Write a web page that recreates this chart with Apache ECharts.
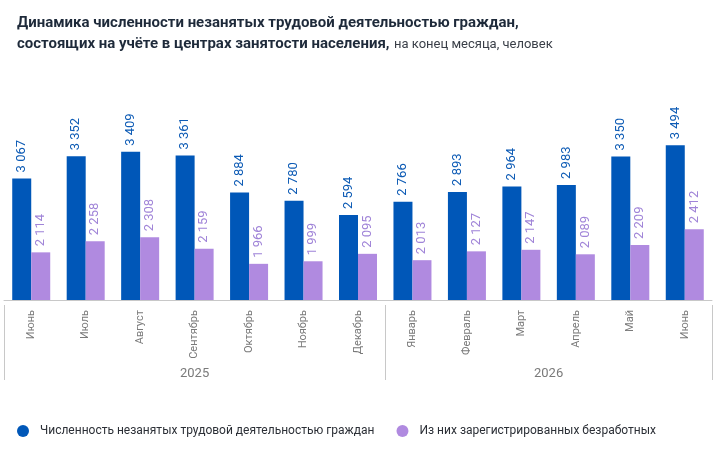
<!DOCTYPE html>
<html><head><meta charset="utf-8">
<script src="https://cdn.jsdelivr.net/npm/echarts@6/dist/echarts.min.js"></script>
<style>html,body{margin:0;padding:0;background:#fff}#c{width:723px;height:456px}</style>
</head><body><div id="c"></div>
<script>
var months = ['Июнь', 'Июль', 'Август', 'Сентябрь', 'Октябрь', 'Ноябрь', 'Декабрь', 'Январь', 'Февраль', 'Март', 'Апрель', 'Май', 'Июнь'];
var unemployed = [3067, 3352, 3409, 3361, 2884, 2780, 2594, 2766, 2893, 2964, 2983, 3350, 3494];
var registered = [2114, 2258, 2308, 2159, 1966, 1999, 2095, 2013, 2127, 2147, 2089, 2209, 2412];
var years = ['2025', '2026'];
var yearCenters = [3.5, 10];
var yearBounds = [0, 7, 13];
var seriesNames = ['Численность незанятых трудовой деятельностью граждан', 'Из них зарегистрированных безработных'];

var chart = echarts.init(document.getElementById('c'));
var font = 'Roboto, "Noto Sans", sans-serif';
function fmt(v) { return String(v).replace(/\B(?=(\d{3})+$)/g, ' '); }
function valLabel(color) {
    return {
        show: true, position: 'top', rotate: 90, align: 'left', verticalAlign: 'middle',
        distance: 6, color: color, fontSize: 13, fontFamily: font,
        formatter: function(p) { return fmt(p.value); }
    };
}
chart.setOption({
    textStyle: { fontFamily: font },
    title: {
        left: 12, top: 8,
        text: '{b|Динамика численности незанятых трудовой деятельностью граждан,}\n{b|состоящих на учёте в центрах занятости населения,} {n|на конец месяца, человек}',
        textStyle: {
            rich: {
                b: { fontSize: 15, fontWeight: 'bold', color: '#1e2a3a', fontFamily: font, lineHeight: 21 },
                n: { fontSize: 13, fontWeight: 'normal', color: '#3a3f48', fontFamily: font, lineHeight: 21 }
            }
        }
    },
    legend: {
        data: seriesNames,
        left: 12, top: 420, itemWidth: 12, itemHeight: 12, itemGap: 22, icon: 'circle',
        textStyle: { fontSize: 12, color: '#2b2f36', fontFamily: font, padding: [0, 0, 0, 6] }
    },
    grid: [
        { left: 4, right: 11, top: 106, bottom: 156 },
        { left: 4, right: 11, top: 305, height: 75 }
    ],
    xAxis: [{
        type: 'category', data: months, gridIndex: 0,
        axisLine: { lineStyle: { color: '#c8c8c8' } },
        axisTick: { show: false },
        axisLabel: { rotate: 90, color: '#7a7a7a', fontSize: 11, margin: 10 }
    }, {
        type: 'value', gridIndex: 1, min: 0, max: 13, interval: 0.5,
        axisLine: { show: false }, axisTick: { show: false }, splitLine: { show: false },
        axisLabel: {
            inside: true, margin: 0, color: '#7a7a7a', fontSize: 13, showMinLabel: false, showMaxLabel: false,
            formatter: function(v) { var i = yearCenters.indexOf(v); return i >= 0 ? years[i] : ''; }
        }
    }],
    yAxis: [
        { type: 'value', gridIndex: 0, min: 1500, max: 4000, show: false },
        { type: 'value', gridIndex: 1, min: 0, max: 1, show: false }
    ],
    series: [{
        name: seriesNames[0], type: 'bar',
        data: unemployed, barWidth: 19, barGap: '0%', itemStyle: { color: '#0057b8' },
        label: valLabel('#0d5bb5')
    }, {
        name: seriesNames[1], type: 'bar',
        data: registered, barWidth: 19, itemStyle: { color: '#b08ae0' },
        label: valLabel('#a084d8')
    }, {
        type: 'line', xAxisIndex: 1, yAxisIndex: 1, data: [], silent: true,
        markLine: {
            symbol: 'none', silent: true, label: { show: false },
            lineStyle: { color: '#c8c8c8', type: 'solid', width: 1 },
            data: yearBounds.map(function(b) { return { xAxis: b }; })
        }
    }]
});
</script></body></html>
